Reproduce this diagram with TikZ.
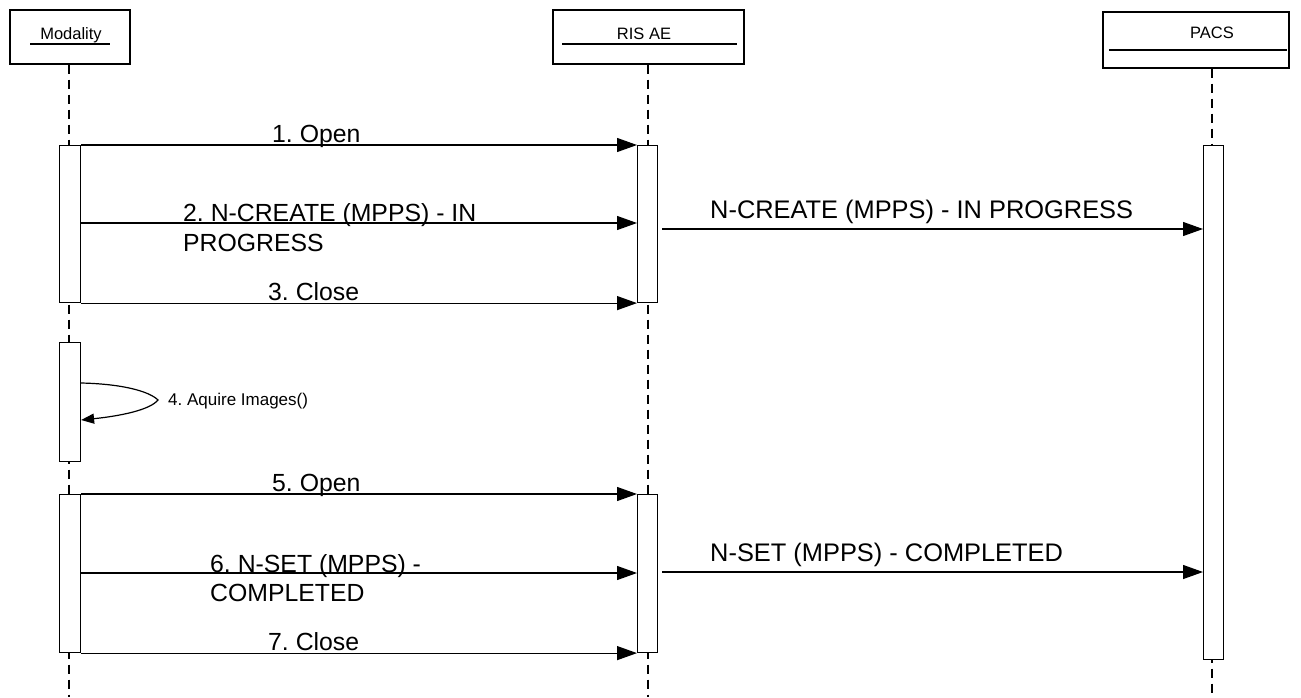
\documentclass[tikz,border=0pt]{standalone}
\usepackage{fontspec}
\setmainfont{Liberation Sans}
\usetikzlibrary{arrows.meta}
\begin{document}
\frenchspacing
\begin{tikzpicture}[x=1pt,y=-1pt,
  hdr/.style={draw=black, line width=1.2pt, fill=white, inner sep=0pt},
  hdrtxt/.style={font=\fontsize{16.5}{19}\selectfont, inner sep=0pt, anchor=base},
  life/.style={draw=black, line width=1.1pt, dash pattern=on 9pt off 6pt},
  lifethick/.style={draw=black, line width=2.6pt, dash pattern=on 9pt off 6pt},
  bar/.style={draw=black, line width=1.1pt, fill=white, inner sep=0pt},
  msg/.style={draw=black, line width=1.2pt, -{Triangle[length=20pt,width=14pt]}},
  lbl/.style={font=\fontsize{24.8}{29}\selectfont, inner sep=0pt, anchor=base west},
  rlbl/.style={font=\fontsize{25.4}{29}\selectfont, inner sep=0pt, anchor=base west},
  small/.style={font=\fontsize{17}{20}\selectfont, inner sep=0pt, anchor=west}
]
\useasboundingbox (0,0) rectangle (1301,697);

% lifeline ends
\coordinate (modend) at (69,697);
\coordinate (risend) at (648,697);
\coordinate (pacsend) at (1212,697);

% header boxes
\node[hdr, minimum width=120pt, minimum height=54pt] (mod) at (70,37) {};
\node[hdr, minimum width=191pt, minimum height=54pt] (ris) at (648.5,37) {};
\node[hdr, minimum width=186pt, minimum height=56pt] (pacs) at (1196,40) {};

\draw[life] (mod.south -| modend) -- (modend);
\draw[life] (ris.south -| risend) -- (risend);
\draw[lifethick] (pacs.south -| pacsend) -- (pacsend);

\node[hdrtxt] (modt) at (71,39) {Modality};
\node[hdrtxt] (rist) at (644,39) {RIS AE};
\node[hdrtxt] (pacst) at (1212,38) {PACS};
\draw[line width=1.1pt] (30,44) -- (110,44);
\draw[line width=1.1pt] (562,44) -- (737,44);
\draw[line width=1.1pt] (1109,50) -- (1287,50);

% activation bars
\node[bar, minimum width=21pt, minimum height=157pt, anchor=north west] (mb1) at (59,145) {};
\node[bar, minimum width=21pt, minimum height=119pt, anchor=north west] (mb2) at (59,342) {};
\node[bar, minimum width=21pt, minimum height=158pt, anchor=north west] (mb3) at (59,494) {};
\node[bar, minimum width=20pt, minimum height=157pt, anchor=north west] (rb1) at (637,145) {};
\node[bar, minimum width=20pt, minimum height=158pt, anchor=north west] (rb2) at (637,494) {};
\node[bar, minimum width=20pt, minimum height=514pt, anchor=north west] (pb) at (1203,145) {};

% messages
\draw[msg] (mb1.north east) -- (rb1.north west);
\node[lbl] (l1) at (272,142) {1. Open};

\draw[msg] (mb1.east |- 0,223) -- (rb1.west |- 0,223);
\node[lbl] (l2a) at (183,221) {2. N-CREATE (MPPS) - IN};
\node[lbl] (l2b) at (183,251) {PROGRESS};

\draw[msg] (662,229) -- (pb.west |- 0,229);
\node[rlbl] (l2r) at (710,218) {N-CREATE (MPPS) - IN PROGRESS};

\draw[msg] (mb1.south east) -- (rb1.south west);
\node[lbl] (l3) at (268,300) {3. Close};

% self call
\draw[line width=1.2pt, -{Triangle[length=13pt,width=10pt]}]
  (mb2.east |- 0,383) .. controls (125,384) and (150,392) .. (158,400)
  .. controls (150,410) and (120,416) .. (mb2.east |- 0,420);
\node[small] (l4) at (168,401) {4. Aquire Images()};

\draw[msg] (mb3.north east) -- (rb2.north west);
\node[lbl] (l5) at (272,491) {5. Open};

\draw[msg] (mb3.east |- 0,573) -- (rb2.west |- 0,573);
\node[lbl] (l6a) at (210,572) {6. N-SET (MPPS) -};
\node[lbl] (l6b) at (210,601) {COMPLETED};

\draw[msg] (662,572) -- (pb.west |- 0,572);
\node[rlbl] (l6r) at (710,561) {N-SET (MPPS) - COMPLETED};

\draw[msg] (mb3.south east) -- (rb2.south west);
\node[lbl] (l7) at (268,650) {7. Close};
\end{tikzpicture}
\end{document}
